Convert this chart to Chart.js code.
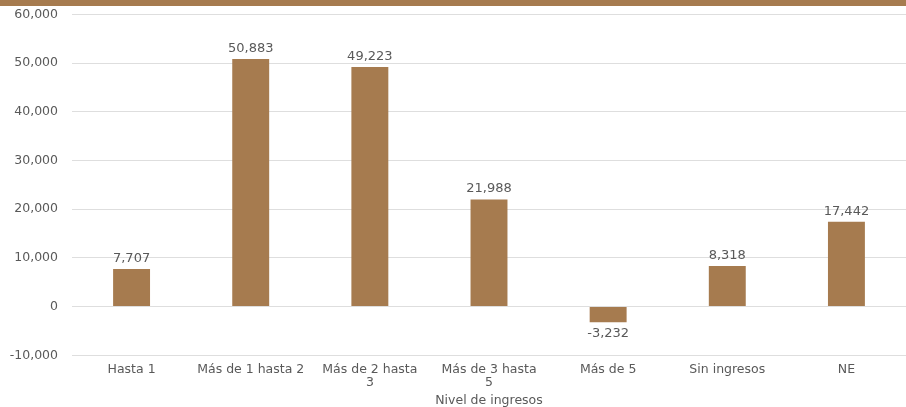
<!DOCTYPE html>
<html lang="es">
<head>
<meta charset="UTF-8">
<title>Nivel de ingresos</title>
<script src="https://cdn.jsdelivr.net/npm/chart.js"></script>
<style>
  html, body { margin: 0; padding: 0; background: #fff; overflow: hidden; }
  .band { position: absolute; left: 0; top: 0; width: 906px; height: 6px; background: #A67B4F; }
  .chart-box { position: absolute; left: 0; top: -7px; width: 906px; height: 416px; }
</style>
</head>
<body>
<div class="chart-box"><canvas id="chart"></canvas></div>
<div class="band"></div>
<script>
const categories = ['Hasta 1', 'Más de 1 hasta 2', ['Más de 2 hasta', '3'], ['Más de 3 hasta', '5'], 'Más de 5', 'Sin ingresos', 'NE'];
const values = [7707, 50883, 49223, 21988, -3232, 8318, 17442];
const yTicks = [-10000, 0, 10000, 20000, 30000, 40000, 50000, 60000];

const txt = '#595959';
const fontFam = "'DejaVu Sans', 'Open Sans', sans-serif";
const fmt = v => v.toLocaleString('en-US');

const valueLabels = {
  id: 'valueLabels',
  afterDatasetsDraw(chart) {
    const c = chart.ctx;
    const meta = chart.getDatasetMeta(0);
    c.save();
    c.fillStyle = txt;
    c.font = '13px ' + fontFam;
    c.textAlign = 'center';
    meta.data.forEach((bar, i) => {
      const v = values[i];
      if (v >= 0) {
        c.textBaseline = 'bottom';
        c.fillText(fmt(v), bar.x, bar.y - 4);
      } else {
        c.textBaseline = 'top';
        c.fillText(fmt(v), bar.x, bar.y + 5);
      }
    });
    c.restore();
  }
};

new Chart(document.getElementById('chart'), {
  type: 'bar',
  data: {
    labels: categories,
    datasets: [{
      data: values,
      backgroundColor: '#A67B4F',
      barPercentage: 0.31,
      categoryPercentage: 1
    }]
  },
  options: {
    responsive: true,
    maintainAspectRatio: false,
    animation: false,
    layout: { padding: 0 },
    plugins: { legend: { display: false }, tooltip: { enabled: false } },
    scales: {
      x: {
        grid: { display: false, drawTicks: false },
        border: { display: false },
        ticks: { color: txt, font: { size: 12.5, family: fontFam, lineHeight: 1.05 }, maxRotation: 0, autoSkip: false, padding: 8 },
        title: { display: true, text: 'Nivel de ingresos', color: txt, font: { size: 12.5, family: fontFam, lineHeight: 1 }, padding: { top: -3, bottom: 2 } }
      },
      y: {
        min: -10000,
        max: 60000,
        afterBuildTicks: axis => { axis.ticks = yTicks.map(v => ({ value: v })); },
        afterFit: axis => { axis.width = 72; },
        grid: { color: '#DEDEDE', drawTicks: false },
        border: { display: false },
        ticks: { color: txt, font: { size: 12.5, family: fontFam }, padding: 14, callback: v => fmt(v) }
      }
    }
  },
  plugins: [valueLabels]
});
</script>
</body>
</html>
